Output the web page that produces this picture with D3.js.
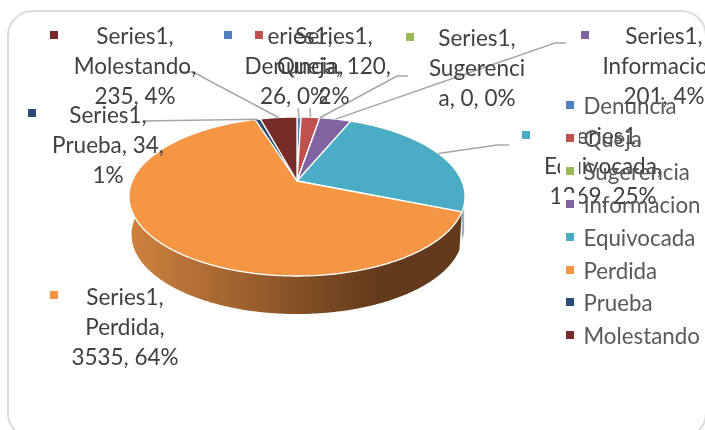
<!DOCTYPE html>
<html>
<head>
<meta charset="utf-8">
<script src="https://cdn.jsdelivr.net/npm/d3@7/dist/d3.min.js"></script>
<style>
html,body{margin:0;padding:0;background:#fff;overflow:hidden}
svg{display:block;filter:blur(0.35px)}
text{font-family:Lato,"Open Sans",sans-serif}
</style>
</head>
<body>
<svg width="705" height="430"></svg>
<script>
const categories = ["Denuncia","Queja","Sugerencia","Informacion","Equivocada","Perdida","Prueba","Molestando"];
const values = [26,120,0,201,1369,3535,34,235];
const colors = ["#4f81bd","#c0504d","#9bbb59","#8064a2","#4bacc6","#f49644","#2c4d75","#772c2a"];
const seriesName = "Series1";
const labelLines = [
  [seriesName+",","Denuncia,","26, 0%"],
  [seriesName+",","Queja, 120,","2%"],
  [seriesName+",","Sugerenci","a, 0, 0%"],
  [seriesName+",","Informacion,","201, 4%"],
  [seriesName+",","Equivocada,","1369, 25%"],
  [seriesName+",","Perdida,","3535, 64%"],
  [seriesName+",","Prueba, 34,","1%"],
  [seriesName+",","Molestando,","235, 4%"]
];
// layout of labels: centre x, centre y of first line, key x, key y
const labelCx = [294,334,477,664,603,125,108,135];
const labelCy = [36,36,38,36,136,297,115,36];
const keyX = [228,259,410,585,526,54,32,54];
const keyY = [35,35,37,35,135,295,113,35];
// leader lines: elbow then end; null = no leader
const leaderEnds = [
  [[298,108]],[[310,108]],
  [[397,76],[408,76]],[[555,43],[566,43]],[[497,145],[509,145]],
  null,[[143,121]],[[193,72],[180,72]]
];
const legendY = [105,138,171,204,237,270,302,335];

const svg = d3.select("svg");
svg.append("rect").attr("x",8).attr("y",11).attr("width",698).attr("height",427)
  .attr("rx",25).attr("fill","#fff").attr("stroke","#dcdcdc").attr("stroke-width",2);

const pie = d3.pie().sort(null).value(d=>d).startAngle(0).endAngle(2*Math.PI);
const arcs = pie(values);

// perspective projection of the pie's top face
const cx = 297, cy = 181, R = 164.8, pA = -41.2, pC = 0.195, depth = 38;
function rim(theta, drop=0, scale=1){
  const u = Math.sin(theta), v = Math.cos(theta), d = 1 + pC*v;
  return [cx + scale*R*u/d, (pA*v + cy)/d + drop];
}
const line = d3.line();
const rad = Math.PI/180;
function arcPts(a0,a1,drop=0,scale=1){
  const n = Math.max(2,Math.ceil(Math.abs(a1-a0)/(0.5*rad)));
  return d3.range(n+1).map(i=>rim(a0+(a1-a0)*i/n,drop,scale));
}

const defs = svg.append("defs");
const grad = defs.append("linearGradient").attr("id","wallPerdida")
  .attr("gradientUnits","userSpaceOnUse").attr("x1",130).attr("x2",375).attr("y1",0).attr("y2",0);
grad.append("stop").attr("offset",0).attr("stop-color","#d0823f");
grad.append("stop").attr("offset",1).attr("stop-color","#633a1b");

// walls
const iEq = categories.indexOf("Equivocada"), iPe = categories.indexOf("Perdida");
const eqEnd = arcs[iEq].endAngle;
svg.append("path")
  .attr("d", line(arcPts(eqEnd-5*rad,eqEnd,0,1).concat(arcPts(eqEnd,eqEnd-5*rad,28,1))) + "Z")
  .attr("fill","#8fb4c4");
const pStart = arcs[iPe].startAngle, pEnd = 285*rad;
svg.append("path")
  .attr("d", line(arcPts(pStart,pEnd,0,1).concat(arcPts(pEnd,pStart,depth,0.985))) + "Z")
  .attr("fill","url(#wallPerdida)");

// top face
svg.append("g").selectAll("path").data(arcs).join("path")
  .attr("d", d=>{
    const pts = arcPts(d.startAngle,d.endAngle);
    return line([[cx,cy]].concat(pts)) + "Z";
  })
  .attr("fill",(d,i)=>colors[i])
  .attr("stroke","#fff").attr("stroke-width",1.3).attr("stroke-linejoin","round");

// leader lines
svg.append("g").selectAll("path").data(arcs.filter((d,i)=>leaderEnds[i])).join("path")
  .attr("d", d=>{
    const mid=(d.startAngle+d.endAngle)/2;
    return line([rim(mid)].concat(leaderEnds[d.index]));
  })
  .attr("fill","none").attr("stroke","#a6a6a6").attr("stroke-width",1.5);

// data labels
const lh = 30.3;
const lab = svg.append("g").attr("font-size",22.5).attr("fill","#404040").attr("text-anchor","middle");
labelLines.forEach((lines,i)=>{
  const t = lab.append("text").attr("x",labelCx[i]).attr("y",labelCy[i]);
  lines.forEach((s,j)=>{
    t.append("tspan").attr("x",labelCx[i]).attr("y",labelCy[i]+j*lh).attr("dy","0.35em").text(s);
  });
});

// masks then keys of the labels
const ks = 8;
svg.append("g").selectAll("rect").data(categories).join("rect")
  .attr("x",(d,i)=>keyX[i]-8).attr("y",(d,i)=>keyY[i]-9).attr("width",16).attr("height",18)
  .attr("fill","#fff");
svg.append("g").selectAll("rect").data(categories).join("rect")
  .attr("x",(d,i)=>keyX[i]-ks/2).attr("y",(d,i)=>keyY[i]-ks/2).attr("width",ks).attr("height",ks)
  .attr("fill",(d,i)=>colors[i]);

// legend
const legX = 570;
const leg = svg.append("g");
leg.selectAll("rect.mask").data(categories).join("rect").attr("class","mask")
  .attr("x",legX-10).attr("y",(d,i)=>legendY[i]-11).attr("width",19).attr("height",22).attr("fill","#fff");
leg.selectAll("rect.key").data(categories).join("rect").attr("class","key")
  .attr("x",legX-ks/2).attr("y",(d,i)=>legendY[i]-ks/2).attr("width",ks).attr("height",ks)
  .attr("fill",(d,i)=>colors[i]);
leg.selectAll("text").data(categories).join("text")
  .attr("x",583.5).attr("y",(d,i)=>legendY[i]+1).attr("dy","0.35em")
  .attr("font-size",22.3).attr("fill","#595959").text(d=>d);
</script>
</body>
</html>
